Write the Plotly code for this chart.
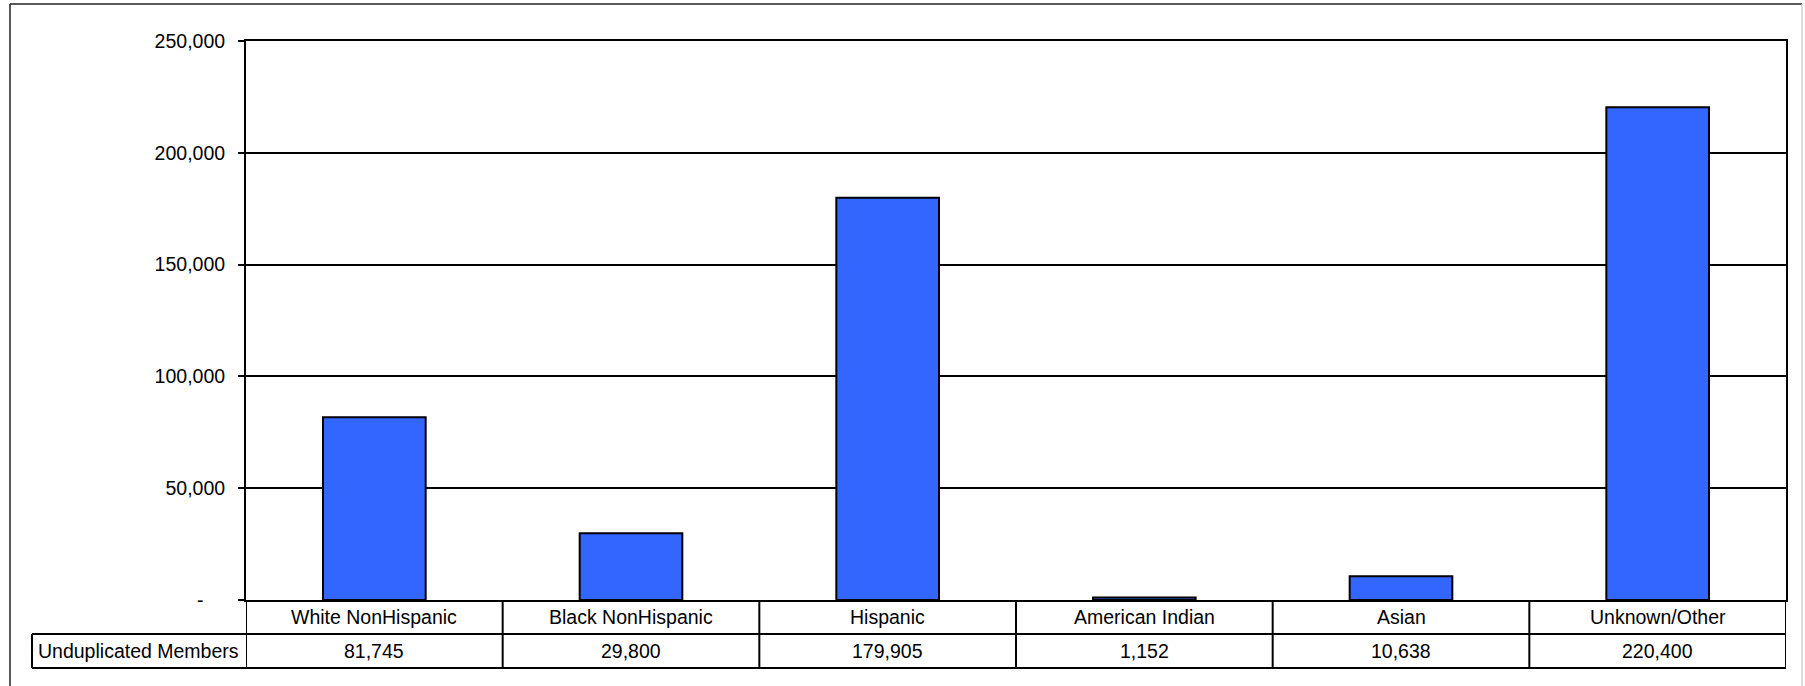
import plotly.graph_objects as go

# Membership by race/ethnicity
categories = ["White NonHispanic", "Black NonHispanic", "Hispanic",
              "American Indian", "Asian", "Unknown/Other"]
members = [81745, 29800, 179905, 1152, 10638, 220400]
series_name = "Unduplicated Members"

y_ticks = [0, 50000, 100000, 150000, 200000, 250000]
y_tick_text = ["-\u00a0\u00a0\u00a0\u00a0", "50,000", "100,000", "150,000", "200,000", "250,000"]

W, H = 1805, 686
L, R, T, B = 246, 1786, 41, 600          # plot area in pixels
PW, PH = R - L, B - T

def px(x):
    return (x - L) / PW

def py(y):
    return (B - y) / PH

FONT = "Liberation Sans, Arial, sans-serif"
FS = 19.5

fig = go.Figure()
fig.add_trace(go.Bar(
    x=categories, y=members, name=series_name,
    marker=dict(color="#3366FF", line=dict(color="black", width=2)),
    width=0.4,
))

shapes = []
annotations = []

row1_bot, row2_bot = 634, 668
line = dict(color="black", width=2)

# data table horizontal rules
shapes.append(dict(type="line", xref="paper", yref="paper",
                   x0=px(32), x1=1, y0=py(row1_bot), y1=py(row1_bot), line=line))
shapes.append(dict(type="line", xref="paper", yref="paper",
                   x0=px(32), x1=1, y0=py(row2_bot), y1=py(row2_bot), line=line))
# label cell left edge
shapes.append(dict(type="line", xref="paper", yref="paper",
                   x0=px(32), x1=px(32), y0=py(row1_bot), y1=py(row2_bot), line=line))
# column separators
for i in range(len(categories) + 1):
    shapes.append(dict(type="line", xref="x", yref="paper",
                       x0=i - 0.5, x1=i - 0.5, y0=0, y1=py(row2_bot), line=line))

for cat, val in zip(categories, members):
    annotations.append(dict(x=cat, xref="x", y=py((600 + row1_bot) / 2), yref="paper",
                            text=cat, showarrow=False, xanchor="center", yanchor="middle",
                            font=dict(family=FONT, size=FS, color="black")))
    annotations.append(dict(x=cat, xref="x", y=py((row1_bot + row2_bot) / 2), yref="paper",
                            text=f"{val:,}", showarrow=False, xanchor="center", yanchor="middle",
                            font=dict(family=FONT, size=FS, color="black")))
annotations.append(dict(x=px(36), xref="paper", y=py((row1_bot + row2_bot) / 2), yref="paper",
                        text=series_name, showarrow=False, xanchor="left", yanchor="middle",
                        font=dict(family=FONT, size=FS, color="black")))

# chart area frame
frame = dict(color="#222222", width=1.5)
shapes.append(dict(type="line", xref="paper", yref="paper",
                   x0=px(10), x1=px(1802), y0=py(4), y1=py(4), line=frame))
shapes.append(dict(type="line", xref="paper", yref="paper",
                   x0=px(10), x1=px(10), y0=py(4), y1=py(H + 5), line=frame))
shapes.append(dict(type="line", xref="paper", yref="paper",
                   x0=px(1802), x1=px(1802), y0=py(4), y1=py(H + 5),
                   line=dict(color="#d0d0d0", width=1.5)))

fig.update_layout(
    width=W, height=H,
    margin=dict(l=L, r=W - R, t=T, b=H - B, pad=0),
    paper_bgcolor="white", plot_bgcolor="white",
    showlegend=False,
    bargap=0.6,
    font=dict(family=FONT, size=FS, color="black"),
    shapes=shapes,
    annotations=annotations,
    xaxis=dict(type="category", range=[-0.5, len(categories) - 0.5],
               showticklabels=False, ticks="", showgrid=False, zeroline=False,
               showline=True, linecolor="black", linewidth=2, mirror=True),
    yaxis=dict(range=[0, 250000], tickvals=y_ticks, ticktext=y_tick_text,
               ticks="outside", ticklen=6, tickcolor="black", tickwidth=1.5,
               showgrid=True, gridcolor="black", gridwidth=2, zeroline=False,
               showline=True, linecolor="black", linewidth=2, mirror=True,
               ticklabelstandoff=9,
               tickfont=dict(family=FONT, size=FS, color="black")),
)

fig.write_html("out.html")
